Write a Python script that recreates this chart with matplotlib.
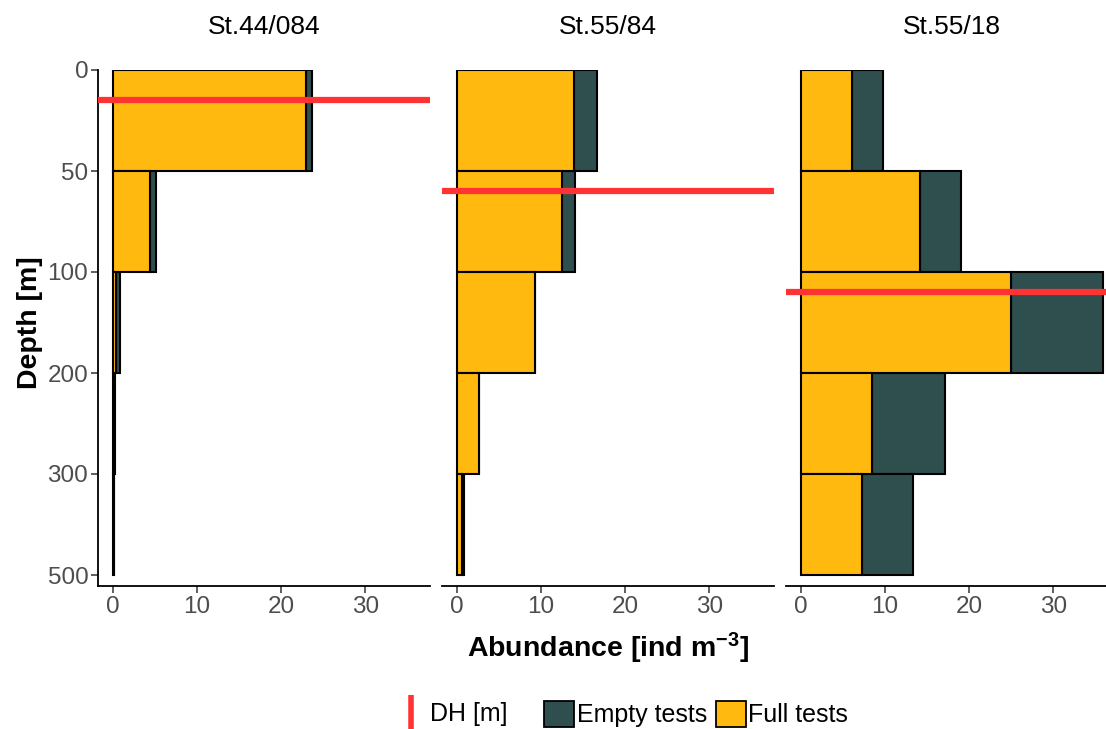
import numpy as np
import matplotlib
matplotlib.use('Agg')
import matplotlib.pyplot as plt
from matplotlib.lines import Line2D
from matplotlib.patches import Patch

plt.rcParams['font.family'] = ['Liberation Sans', 'DejaVu Sans']
plt.rcParams['mathtext.fontset'] = 'custom'
plt.rcParams['mathtext.rm'] = 'Liberation Sans'
plt.rcParams['mathtext.default'] = 'regular'

# depth bins (plotted as equal-height bands)
depth_labels = ['0', '50', '100', '200', '300', '500']
bin_top = [0, 50, 100, 200, 300]
bin_bot = [50, 100, 200, 300, 500]

stations = ['St.44/084', 'St.55/84', 'St.55/18']
# abundance [ind m^-3] per depth bin
full_tests = [
    [22.9, 4.35, 0.4, 0.15, 0.05],
    [13.95, 12.5, 9.3, 2.6, 0.6],
    [6.0, 14.1, 25.0, 8.45, 7.2],
]
empty_tests = [
    [0.7, 0.75, 0.45, 0.1, 0.05],
    [2.65, 1.5, 0.0, 0.0, 0.2],
    [3.8, 4.9, 10.9, 8.65, 6.1],
]
dh = [15, 60, 120]  # DH [m]

col_full = '#FFB90F'
col_empty = '#2F4F4F'
col_dh = '#FF3333'
tick_col = '#4D4D4D'


def depth_to_band(d):
    # map a depth in metres onto the band scale
    for i, (t, b) in enumerate(zip(bin_top, bin_bot)):
        if t <= d <= b:
            return i + (d - t) / (b - t)
    return len(bin_top)


W, H = 1106, 729
fig = plt.figure(figsize=(W / 100, H / 100), dpi=100)

lefts = [98, 442, 786]
pw = 332
top_px, bot_px = 70, 586

xmax = max(f + e for fs, es in zip(full_tests, empty_tests) for f, e in zip(fs, es))
xlo, xhi = -0.05 * xmax, 1.05 * xmax

for k in range(3):
    ax = fig.add_axes([lefts[k] / W, 1 - bot_px / H, pw / W, (bot_px - top_px) / H])
    y = np.arange(len(bin_top)) + 0.5
    full = np.array(full_tests[k])
    empty = np.array(empty_tests[k])
    ax.barh(y, empty, height=1.0, left=full, color=col_empty, edgecolor='black', linewidth=1.5, zorder=2)
    ax.barh(y, full, height=1.0, color=col_full, edgecolor='black', linewidth=1.5, zorder=3)
    ax.axhline(depth_to_band(dh[k]), color=col_dh, linewidth=4.5, zorder=4, clip_on=False,
               solid_capstyle='butt')

    ax.set_xlim(xlo, xhi)
    ax.set_ylim((bot_px - top_px) / 101.0, 0)
    ax.set_xticks([0, 10, 20, 30])
    ax.tick_params(axis='x', labelsize=17.5, labelcolor=tick_col, color='#333333',
                   length=5, width=1.1, pad=2)
    for s in ['top', 'right']:
        ax.spines[s].set_visible(False)
    ax.spines['bottom'].set_linewidth(1.3)
    if k == 0:
        ax.set_yticks(np.arange(len(depth_labels)))
        ax.set_yticklabels(depth_labels)
        ax.tick_params(axis='y', labelsize=17.5, labelcolor=tick_col, color='#333333',
                       length=5, width=1.1, pad=2)
        ax.spines['left'].set_linewidth(1.3)
    else:
        ax.set_yticks([])
        ax.spines['left'].set_visible(False)
    fig.text((lefts[k] + pw / 2) / W, 1 - 27 / H, stations[k], ha='center', va='center', fontsize=19)

fig.text(608 / W, 1 - 648 / H, r'Abundance [ind m$^{-3}$]', ha='center', va='center',
         fontsize=20.5, fontweight='bold')
fig.text(30 / W, 1 - 323 / H, 'Depth [m]', ha='center', va='center', rotation=90,
         fontsize=20.5, fontweight='bold')

# DH legend
dh_handle = Line2D([], [], color=col_dh, marker='|', linestyle='none', markersize=24,
                   markeredgewidth=4)
fig.legend([dh_handle], ['DH [m]'], loc='center', bbox_to_anchor=(452 / W, 1 - 714 / H),
           frameon=False, fontsize=18, handlelength=1.2, handletextpad=0.15)

# fill legend
fill_handles = [
    Patch(facecolor=col_empty, edgecolor='black', linewidth=1.3),
    Patch(facecolor=col_full, edgecolor='black', linewidth=1.3),
]
fig.legend(fill_handles, ['Empty tests', 'Full tests'], loc='center', ncol=2,
           bbox_to_anchor=(696 / W, 1 - 714 / H), frameon=False, fontsize=18,
           handlelength=1.2, handleheight=1.2, handletextpad=0.1, columnspacing=0.35)

fig.savefig('out.png', dpi=100)
